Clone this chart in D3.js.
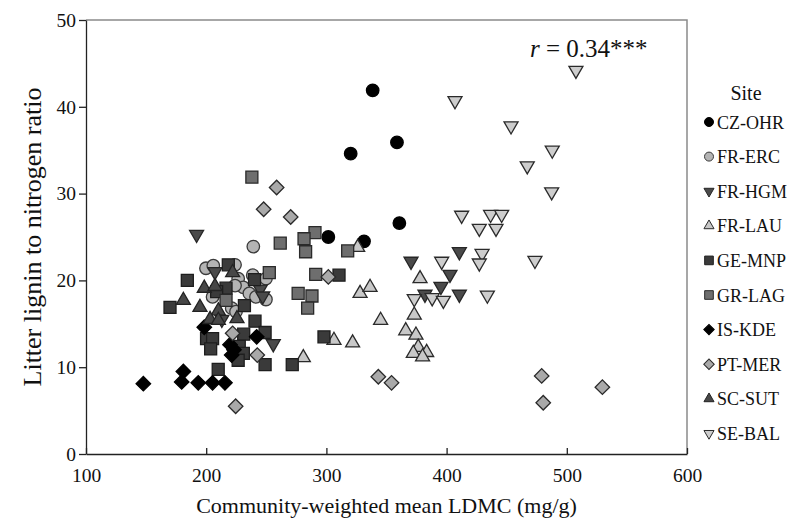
<!DOCTYPE html>
<html>
<head>
<meta charset="utf-8">
<script src="https://cdn.jsdelivr.net/npm/d3@7"></script>
<style>
  body { margin: 0; background: #fff; }
  svg { display: block; font-family: "Liberation Serif", "Times New Roman", serif; }
</style>
</head>
<body>
<svg id="chart" width="803" height="520"></svg>
<script>
// ---- Data (LDMC mg/g, lignin:N ratio) ----
const sites = ["CZ-OHR","FR-ERC","FR-HGM","FR-LAU","GE-MNP","GR-LAG","IS-KDE","PT-MER","SC-SUT","SE-BAL"];

const czOhr = [[338.5,41.9],[358.7,35.9],[320.2,34.6],[360.7,26.6],[301.6,25.0],[331.3,24.5]];
const frErc = [[239.2,23.9],[199.8,21.4],[205.9,21.7],[224,21.8],[226.6,20.2],[238.7,20.6],[249.7,20.2],
               [230.9,19.2],[224,19.4],[235.9,18.5],[241.4,18.1],[249.7,17.8],[205.3,18.1],[221.2,16.8],[224.8,16.4]];
const frHgm = [[192,25.3],[207.3,21.0],[245,19.0],[247,18.2],[213,15.5],[255.8,12.7],[370.4,22.2],
               [410.6,23.3],[402.8,20.7],[395.3,19.3],[382,18.4],[410.6,18.4]];
const frLau = [[326,23.8],[328,18.5],[336.3,19.2],[345.1,15.4],[306.3,13.1],[321.8,12.8],[280.8,11.1],
               [377.9,20.2],[373.1,16.0],[366,14.2],[374.5,13.7],[376.4,12.3],[372.3,11.6],[383.4,11.7],[380,11.2]];
const geMnp = [[218.4,21.8],[240.2,20.1],[184.3,20.0],[216.5,19.1],[208.7,18.7],[169.9,16.9],[231.8,17.1],
               [240.6,15.3],[200.3,13.3],[205.3,13.3],[203.7,12.1],[231.2,13.8],[249,14.0],[227.5,12.4],
               [230.9,11.6],[226.6,10.8],[249,10.3],[271.6,10.3],[210,9.75],[310.5,20.6],[298,13.5]];
const grLag = [[238,31.9],[261.6,24.3],[290.5,25.5],[281.4,24.8],[282.7,23.3],[317.7,23.4],[252.5,20.9],
               [291.1,20.7],[276.5,18.5],[288,18.2],[284.4,16.8],[216.5,17.7]];
const isKde = [[198.4,14.6],[242,13.5],[219.8,12.6],[223.1,12.0],[221.2,11.4],[181,9.5],[179.6,8.3],
               [193.4,8.2],[205.3,8.2],[215.6,8.2],[147.7,8.1]];
const ptMer = [[258.6,30.7],[247.8,28.2],[270.3,27.3],[301.6,20.4],[222,13.9],[242.5,11.4],[224.5,5.5],
               [343.2,8.9],[354.2,8.2],[479.1,9.0],[529.6,7.7],[480.4,5.9]];
const scSut = [[222,20.9],[198.4,19.1],[207.3,19.3],[181,17.7],[194.8,16.9],[210.1,16.5],[203.2,15.5],
               [210.1,15.4],[225.6,15.6]];
const seBal = [[507.6,44.2],[407,40.7],[453.6,37.8],[487.9,35.0],[467.1,33.2],[487.4,30.2],[412.5,27.5],
               [436.6,27.6],[445.8,27.6],[427.2,26.0],[441.1,26.0],[429.5,23.1],[427.2,22.0],[395.9,22.2],
               [473.5,22.3],[373.1,17.9],[388,18.0],[397.3,17.7],[433.9,18.3]];

const siteData = [czOhr, frErc, frHgm, frLau, geMnp, grLag, isKde, ptMer, scSut, seBal];
const xTicks = [100,200,300,400,500,600];
const yTicks = [0,10,20,30,40,50];

// ---- Styles ----
const shapes = ["circle","circle","down","up","square","square","diamond","diamond","up","down"];
const fills  = ["#000000","#b4b4b4","#4a4a4a","#c8c8c8","#3a3a3a","#6e6e6e","#000000","#a9a9a9","#474747","#cdcdcd"];
const strokes= ["#000000","#3a3a3a","#262626","#2a2a2a","#1e1e1e","#2a2a2a","#000000","#2a2a2a","#222222","#2a2a2a"];

const svg = d3.select("#chart");
const m = {left: 86, right: 687, top: 20, bottom: 454};

const x = d3.scaleLinear().domain([100,600]).range([m.left, m.right]);
const y = d3.scaleLinear().domain([0,50]).range([m.bottom, m.top]);

// frame (top/right)
svg.append("path")
  .attr("d", `M${m.left},${m.top}H${m.right}V${m.bottom}`)
  .attr("fill","none").attr("stroke","#8a8a8a").attr("stroke-width",1.5);

// axes
const xAxis = svg.append("g").attr("transform",`translate(0,${m.bottom})`)
  .call(d3.axisBottom(x).tickValues(xTicks).tickSizeInner(-6).tickSizeOuter(0).tickPadding(14));
const yAxis = svg.append("g").attr("transform",`translate(${m.left},0)`)
  .call(d3.axisLeft(y).tickValues(yTicks).tickSizeInner(7).tickSizeOuter(0).tickPadding(3));
[xAxis,yAxis].forEach(a=>{
  a.select(".domain").attr("stroke","#222").attr("stroke-width",1.3);
  a.selectAll(".tick line").attr("stroke","#222").attr("stroke-width",1.3);
  a.selectAll("text").attr("font-family","Liberation Serif").attr("font-size",19.5).attr("fill","#111");
});

// axis titles
svg.append("text").attr("x",(m.left+m.right)/2).attr("y",513).attr("text-anchor","middle")
  .attr("font-size",22).attr("fill","#111").text("Community-weighted mean LDMC (mg/g)");
svg.append("text").attr("transform",`translate(41,${(m.top+m.bottom)/2}) rotate(-90)`)
  .attr("text-anchor","middle").attr("font-size",26).attr("fill","#111").text("Litter lignin to nitrogen ratio");

// r annotation
const rt = svg.append("text").attr("x",530).attr("y",57).attr("font-size",25).attr("fill","#111");
rt.append("tspan").attr("font-style","italic").text("r");
rt.append("tspan").text(" = 0.34***");

function symPath(shape, s) {
  if (shape === "circle") return d3.symbol(d3.symbolCircle, s*s*Math.PI/4)();
  if (shape === "square") return d3.symbol(d3.symbolSquare, s*s)();
  if (shape === "diamond") return d3.symbol(d3.symbolSquare, s*s*0.5)();
  return d3.symbol(d3.symbolTriangle, Math.sqrt(3)/4*s*s)();
}
function symTransform(shape, px, py) {
  if (shape === "diamond") return `translate(${px},${py}) rotate(45)`;
  if (shape === "down") return `translate(${px},${py}) rotate(180)`;
  return `translate(${px},${py})`;
}
const markSize = {circle: 12.5, square: 12, diamond: 14.5, up: 14, down: 14};

// points
siteData.forEach((pts, i) => {
  const sh = shapes[i];
  svg.append("g").selectAll("path").data(pts).join("path")
    .attr("d", symPath(sh, markSize[sh]))
    .attr("transform", d => symTransform(sh, x(d[0]), y(d[1])))
    .attr("fill", fills[i]).attr("stroke", strokes[i]).attr("stroke-width", 1.3);
});

// legend
svg.append("text").attr("x",746).attr("y",100).attr("text-anchor","middle")
  .attr("font-size",20).attr("fill","#111").text("Site");
const lg = svg.append("g");
sites.forEach((s, i) => {
  const cy = 122 + i*34.6;
  const sh = shapes[i];
  const sz = markSize[sh]*0.72;
  lg.append("path").attr("d", symPath(sh, sz))
    .attr("transform", symTransform(sh, 709, cy))
    .attr("fill", fills[i]).attr("stroke", strokes[i]).attr("stroke-width", 1);
  lg.append("text").attr("x",717).attr("y",cy+6.5).attr("font-size",18).attr("fill","#111").text(s);
});
</script>
</body>
</html>
